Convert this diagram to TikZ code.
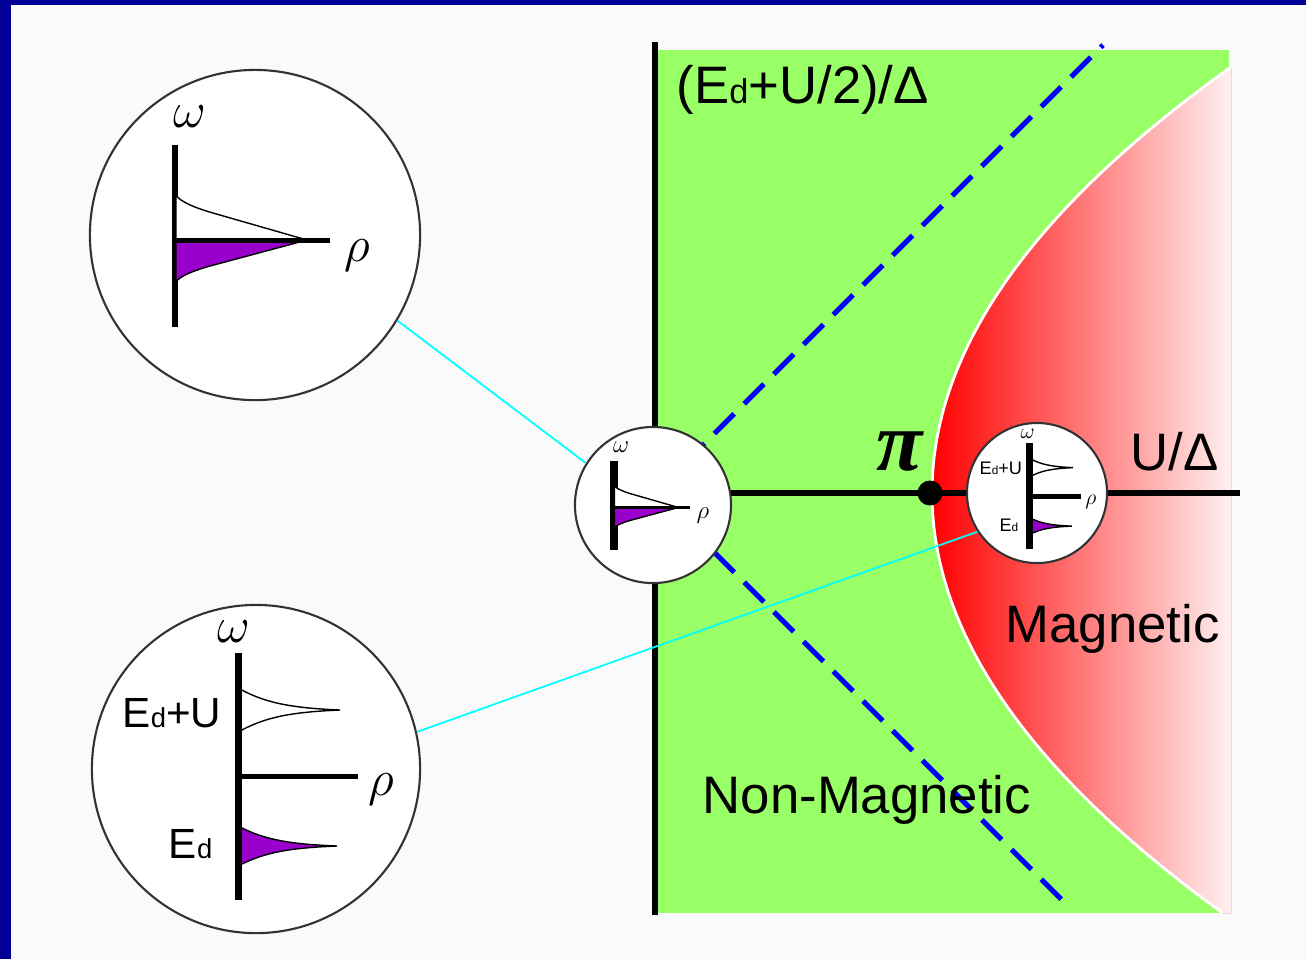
\documentclass[tikz,border=0pt]{standalone}
\usepackage{fontspec}
\setmainfont{Liberation Sans}
\newfontfamily\pifont{Liberation Serif}
\usepackage{graphicx}

\definecolor{navy}{RGB}{0,0,153}
\definecolor{bgcol}{RGB}{250,250,250}
\definecolor{nonmaggreen}{RGB}{153,255,102}
\definecolor{dosfill}{RGB}{153,0,204}
\definecolor{linkcyan}{RGB}{0,255,255}

% E with a small d
\newcommand{\Ed}{E\scalebox{0.65}{d}}

% one broad level at the Fermi energy (#1 bar width, #2 arm width, #3 name prefix)
\newcommand{\broadspec}[3]{%
    \draw [line width=#1] (-80,-90) -- (-80,92);
    \filldraw [fill=white, line width=0.4pt] (-79,-40) .. controls (-75,-33) and (-58,-26.6) .. (-42,-22) -- (52,5) -- (-79,5) -- cycle;
    \filldraw [fill=dosfill, line width=0.4pt] (-79,47) .. controls (-75,40.5) and (-58,34.5) .. (-42,30.2) -- (52,5) -- (-79,5) -- cycle;
    \draw [line width=#2] (-80,5) -- (75,5);
    \node [greek] (#3w) at (-65,-118) {$\omega$};
    \node [greek] (#3r) at (102,21) {$\rho$};
}

% two split levels Ed and Ed+U (#1 bar width, #2 arm width, #3 name prefix)
\newcommand{\splitspec}[3]{%
    \filldraw [fill=white, line width=0.4pt] (-16,-80) .. controls (9,-66.35) and (34,-61.1) .. (84,-59) .. controls (34,-56.9) and (9,-51.65) .. (-16,-38) -- cycle;
    \filldraw [fill=dosfill, line width=0.4pt] (-16,58) .. controls (8.25,70.35) and (32.5,75.1) .. (81,77) .. controls (32.5,78.9) and (8.25,83.65) .. (-16,96) -- cycle;
    \draw [line width=#1] (-18,-116) -- (-18,131);
    \draw [line width=#2] (-18,7) -- (102,7);
    \node [greek] (#3w) at (-22,-137) {$\omega$};
    \node [greek] (#3r) at (125,20) {$\rho$};
    \node [smalllbl, anchor=base east] (#3u) at (-34,-42) {\Ed+U};
    \node [smalllbl, anchor=base east] (#3d) at (-43,89) {\Ed};
}

\begin{document}
\begin{tikzpicture}[x=0.01cm, y=-0.01cm]
    % Styles
    \tikzstyle{bubble} = [circle, draw=black!80, fill=white, line width=0.6pt, inner sep=0pt]
    \tikzstyle{link} = [linkcyan, line width=0.5pt]
    \tikzstyle{axisline} = [line width=0.06cm]
    \tikzstyle{critline} = [blue, line width=0.05cm, dash pattern=on 0.28cm off 0.14cm]
    \tikzstyle{critpt} = [circle, fill=black, minimum size=0.25cm, inner sep=0pt]
    \tikzstyle{lbl} = [font=\fontsize{15}{18}\selectfont, inner sep=0pt]
    \tikzstyle{smalllbl} = [font=\fontsize{12}{14}\selectfont, inner sep=0pt]
    \tikzstyle{greek} = [font=\fontsize{14}{16}\selectfont, inner sep=0pt]

    \useasboundingbox (0,0) rectangle (1306,959);

    % === Frame ===
    \fill [bgcol] (0,0) rectangle (1306,959);
    \fill [navy] (0,0) rectangle (11,959);
    \fill [navy] (0,0) rectangle (1306,5);

    % === Phase diagram ===
    % Non-magnetic region
    \fill [nonmaggreen] (655,50) rectangle (1229,913);

    % Magnetic region
    \fill [left color=red, right color=red!6]
        plot [domain=-426:420, samples=80, variable=\t] ({932+0.00165*(\t)*(\t)},{493+(\t)})
        -- (1231,913) -- (1231,67) -- cycle;
    \draw [white, line width=0.8pt]
        plot [domain=-426:420, samples=80, variable=\t] ({932+0.00165*(\t)*(\t)},{493+(\t)});

    % Lines Ed = 0 and Ed = -U
    \coordinate (origin) at (655,493);
    \coordinate (upend) at (1103,45);
    \coordinate (downend) at (1070,908);
    \draw [critline] (origin) -- (upend);
    \draw [critline] (origin) -- (downend);

    % Axes
    \draw [axisline] (655,42) -- (655,915);
    \draw [axisline] (origin) -- (1240,493);

    % Critical point
    \node [critpt] (crit) at (930,493) {};
    \node [anchor=base, inner sep=0pt, font=\fontsize{24}{26}\selectfont\pifont\bfseries\itshape] (pilbl) at (900,470) {π};

    % === Labels ===
    \node [lbl, anchor=base west] (ylbl) at (676,103) {(\Ed+U/2)/Δ};
    \node [lbl, anchor=base west] (xlbl) at (1130,470) {U/Δ};
    \node [lbl, anchor=base west] (maglbl) at (1005,642) {Magnetic};
    \node [lbl, anchor=base west] (nonmaglbl) at (702,813) {Non-Magnetic};

    % === Spectral functions ===
    \node [bubble, minimum size=3.30cm] (tl) at (255,235) {};
    \node [bubble, minimum size=1.56cm] (ctr) at (653,505) {};
    \node [bubble, minimum size=3.28cm] (bl) at (256,769) {};
    \node [bubble, minimum size=1.40cm] (mr) at (1037,493) {};

    \begin{scope}[shift={(255,235)}]
        \broadspec{0.06cm}{0.05cm}{tl}
    \end{scope}
    \begin{scope}[shift={(653,505)}, scale=0.49, transform shape]
        \broadspec{0.08cm}{0.03cm}{ctr}
    \end{scope}
    \begin{scope}[shift={(256,769)}]
        \splitspec{0.07cm}{0.05cm}{bl}
    \end{scope}
    \begin{scope}[shift={(1037,493)}, scale=0.43, transform shape]
        \splitspec{0.07cm}{0.05cm}{mr}
    \end{scope}

    % === Connectors ===
    \draw [link] (tl.-31) -- (ctr.148);
    \draw [link] (bl.13) -- (mr.213);

\end{tikzpicture}
\end{document}
